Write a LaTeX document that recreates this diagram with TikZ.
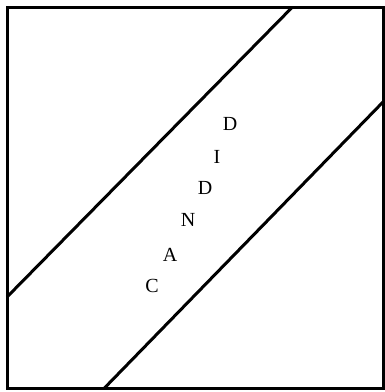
\documentclass[tikz,border=0pt]{standalone}
\usepackage{fontspec}
\setmainfont{Liberation Serif}
\usepackage{tikz}

\tikzset{letter/.style={font=\fontsize{20}{20}\selectfont,inner sep=0pt}}

\begin{document}
\begin{tikzpicture}[x=1pt,y=-1pt,line width=3pt]
  \useasboundingbox (0,0) rectangle (385,392);
  \draw (7,7.5) rectangle (383,388.5);
  \draw (7,297) -- (292,7.5);
  \draw (104,388.5) -- (383,102);
  \node[letter] (c)  at (152,286) {C};
  \node[letter] (a)  at (170,255) {A};
  \node[letter] (n)  at (188,220) {N};
  \node[letter] (d1) at (205,188) {D};
  \node[letter] (i)  at (217,157) {I};
  \node[letter] (d2) at (230,124) {D};
\end{tikzpicture}
\end{document}
